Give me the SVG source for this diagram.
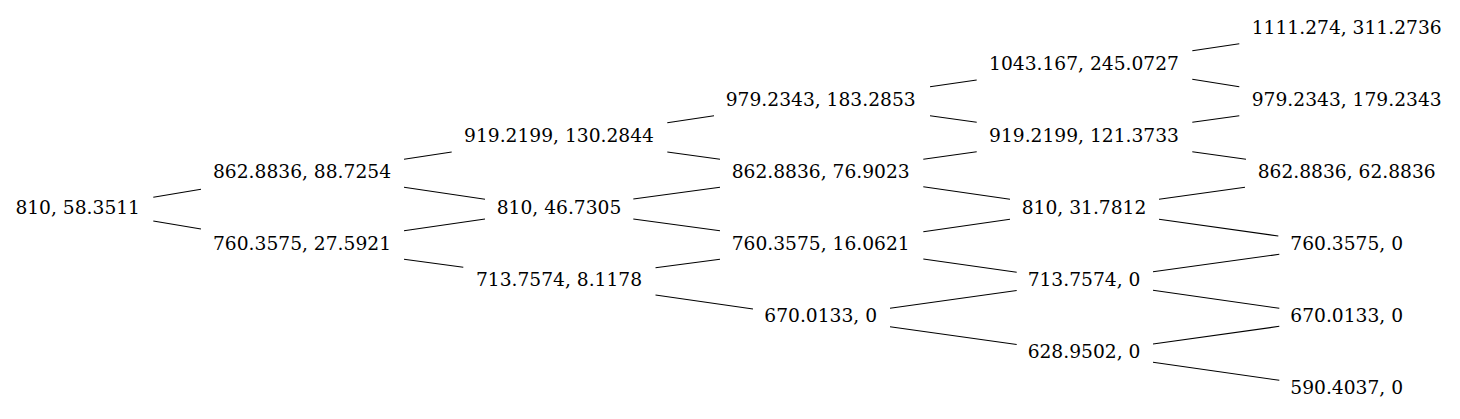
<svg xmlns="http://www.w3.org/2000/svg" width="1460" height="419" viewBox="0 0 1460 419">
<style>
text{font-family:"DejaVu Serif",serif;font-size:18.67px;fill:#000;text-anchor:middle}
.e line{stroke:#000;stroke-width:1.1;fill:none}
</style>
<rect width="1460" height="419" fill="#fff"/>
<g id="edges" class="e">
<line x1="153.3" y1="197.3" x2="201" y2="189.3"/>
<line x1="153.3" y1="221" x2="201" y2="229"/>
<line x1="404" y1="159.3" x2="451.7" y2="152"/>
<line x1="404" y1="187.3" x2="485" y2="199.3"/>
<line x1="404" y1="230.7" x2="485" y2="219"/>
<line x1="404" y1="259.3" x2="463.3" y2="267.3"/>
<line x1="667.3" y1="122.7" x2="714" y2="115.7"/>
<line x1="667.3" y1="152" x2="720" y2="159.3"/>
<line x1="633.3" y1="199" x2="720" y2="187.3"/>
<line x1="633.3" y1="219" x2="720" y2="230.7"/>
<line x1="655.5" y1="267.8" x2="720" y2="259.2"/>
<line x1="655.5" y1="295" x2="753" y2="309"/>
<line x1="930" y1="86.7" x2="976.7" y2="80"/>
<line x1="930" y1="115.7" x2="976.7" y2="122.3"/>
<line x1="923.3" y1="159.3" x2="976.7" y2="151.7"/>
<line x1="923.3" y1="186.7" x2="1010" y2="199.3"/>
<line x1="923.3" y1="231.7" x2="1010" y2="219.3"/>
<line x1="923.3" y1="259" x2="1016.7" y2="272.3"/>
<line x1="890" y1="308.3" x2="1016.7" y2="290.5"/>
<line x1="890" y1="326.7" x2="1016.7" y2="344.5"/>
<line x1="1192.3" y1="50.7" x2="1239.3" y2="43.7"/>
<line x1="1192.3" y1="79.3" x2="1239.3" y2="86.7"/>
<line x1="1192.3" y1="122.3" x2="1239.3" y2="115.7"/>
<line x1="1192.3" y1="151.7" x2="1246" y2="159.3"/>
<line x1="1159" y1="199.3" x2="1245" y2="187.3"/>
<line x1="1159" y1="219.3" x2="1278.3" y2="236"/>
<line x1="1153" y1="271.7" x2="1279.3" y2="254.3"/>
<line x1="1153" y1="290.3" x2="1279.3" y2="308.3"/>
<line x1="1153" y1="344" x2="1279.3" y2="326.3"/>
<line x1="1153" y1="362.3" x2="1279.3" y2="380.3"/>
</g>
<g id="n0"><text x="77.7" y="214.2">810, 58.3511</text></g>
<g id="n1u"><text x="302" y="178.2">862.8836, 88.7254</text></g>
<g id="n1d"><text x="302" y="250.2">760.3575, 27.5921</text></g>
<g id="n2uu"><text x="559" y="142.3">919.2199, 130.2844</text></g>
<g id="n2ud"><text x="559" y="214.2">810, 46.7305</text></g>
<g id="n2dd"><text x="559" y="286.1">713.7574, 8.1178</text></g>
<g id="n3a"><text x="820.7" y="106.3">979.2343, 183.2853</text></g>
<g id="n3b"><text x="820.7" y="178.2">862.8836, 76.9023</text></g>
<g id="n3c"><text x="820.7" y="250.2">760.3575, 16.0621</text></g>
<g id="n3d"><text x="820.7" y="322.1">670.0133, 0</text></g>
<g id="n4a"><text x="1084" y="70.4">1043.167, 245.0727</text></g>
<g id="n4b"><text x="1084" y="142.3">919.2199, 121.3733</text></g>
<g id="n4c"><text x="1084" y="214.2">810, 31.7812</text></g>
<g id="n4d"><text x="1084" y="286.1">713.7574, 0</text></g>
<g id="n4e"><text x="1084" y="358">628.9502, 0</text></g>
<g id="n5a"><text x="1346.7" y="34.4">1111.274, 311.2736</text></g>
<g id="n5b"><text x="1346.7" y="106.3">979.2343, 179.2343</text></g>
<g id="n5c"><text x="1346.7" y="178.2">862.8836, 62.8836</text></g>
<g id="n5d"><text x="1346.7" y="250.2">760.3575, 0</text></g>
<g id="n5e"><text x="1346.7" y="322.1">670.0133, 0</text></g>
<g id="n5f"><text x="1346.7" y="394">590.4037, 0</text></g>
</svg>
